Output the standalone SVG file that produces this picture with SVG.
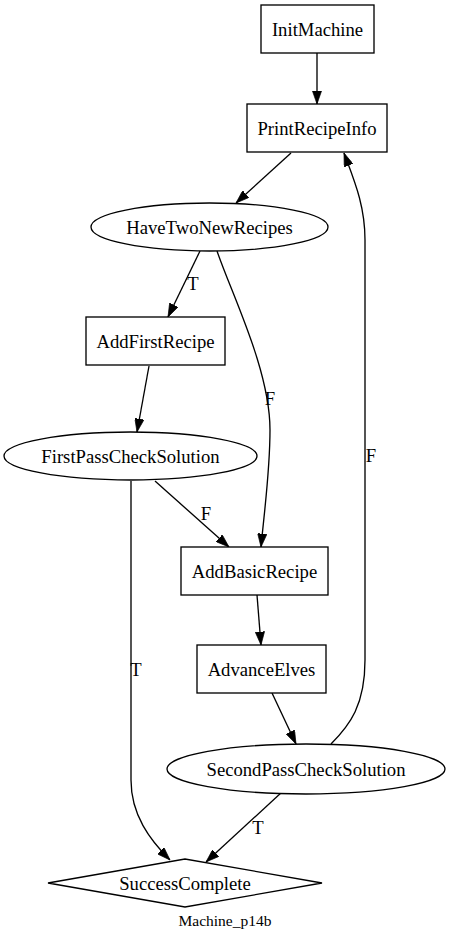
<svg xmlns="http://www.w3.org/2000/svg" width="451" height="939" viewBox="0 0 451 939">
<style>
.n{fill:#fff;stroke:#000;stroke-width:1.33}
.t{font-family:'Liberation Serif','Times New Roman',Times,serif;font-size:18.67px;text-anchor:middle;fill:#000}
.e{fill:none;stroke:#000;stroke-width:1.33;marker-end:url(#ah)}
.g{font-family:'Liberation Serif','Times New Roman',Times,serif;font-size:15.5px;text-anchor:middle;fill:#000}
</style>
<defs>
<marker id="ah" viewBox="0 0 10 7" refX="10" refY="3.5" markerWidth="13.3" markerHeight="9.3" markerUnits="userSpaceOnUse" orient="auto">
<path d="M0,0 L10,3.5 L0,7 z" fill="#000" stroke="#000" stroke-width="0.5"/>
</marker>
</defs>
<rect width="451" height="939" fill="#fff"/>
<g id="edges">
<path class="e" d="M317,53 L317,104"/>
<path class="e" d="M291,153 L236,203"/>
<path class="e" d="M200,251 L168,317"/>
<text class="t" x="193" y="290" font-family="Liberation Serif">T</text>
<path class="e" d="M217,251 C232,295 270,370 270,430 C270,470 265,505 261,547"/>
<text class="t" x="270" y="405" font-family="Liberation Serif">F</text>
<path class="e" d="M149,366 L137,432"/>
<path class="e" d="M155,481 L229,547"/>
<text class="t" x="206" y="520" font-family="Liberation Serif">F</text>
<path class="e" d="M131,481 C131,560 131,700 131,780 C131,815 150,840 170,860"/>
<text class="t" x="136" y="676" font-family="Liberation Serif">T</text>
<path class="e" d="M257,595 L261,645"/>
<path class="e" d="M272,693 L296,744"/>
<path class="e" d="M331,744 C350,725 365,705 365,660 L365,240 C365,205 354,180 344,153"/>
<text class="t" x="371" y="462" font-family="Liberation Serif">F</text>
<path class="e" d="M282,792 L206,862"/>
<text class="t" x="258" y="834" font-family="Liberation Serif">T</text>
</g>
<g id="InitMachine"><rect class="n" x="261" y="5" width="113" height="48"/><text class="t" x="317.5" y="35.5" font-family="Liberation Serif">InitMachine</text></g>
<g id="PrintRecipeInfo"><rect class="n" x="247" y="104" width="140" height="48"/><text class="t" x="317" y="134.5" font-family="Liberation Serif">PrintRecipeInfo</text></g>
<g id="HaveTwoNewRecipes"><ellipse class="n" cx="209.5" cy="227" rx="118.5" ry="24"/><text class="t" x="209.5" y="233.5" font-family="Liberation Serif">HaveTwoNewRecipes</text></g>
<g id="AddFirstRecipe"><rect class="n" x="86" y="317" width="139" height="48"/><text class="t" x="155.5" y="347.5" font-family="Liberation Serif">AddFirstRecipe</text></g>
<g id="FirstPassCheckSolution"><ellipse class="n" cx="130.5" cy="456" rx="126.5" ry="24"/><text class="t" x="130.5" y="462.5" font-family="Liberation Serif">FirstPassCheckSolution</text></g>
<g id="AddBasicRecipe"><rect class="n" x="181" y="547" width="147" height="48"/><text class="t" x="254.5" y="577.5" font-family="Liberation Serif">AddBasicRecipe</text></g>
<g id="AdvanceElves"><rect class="n" x="197" y="645" width="129" height="48"/><text class="t" x="261.5" y="675.5" font-family="Liberation Serif">AdvanceElves</text></g>
<g id="SecondPassCheckSolution"><ellipse class="n" cx="306" cy="769" rx="139" ry="25"/><text class="t" x="306" y="775.5" font-family="Liberation Serif">SecondPassCheckSolution</text></g>
<g id="SuccessComplete"><polygon class="n" points="48,883 185,859 322,883 185,907"/><text class="t" x="185" y="889.5" font-family="Liberation Serif">SuccessComplete</text></g>
<text class="g" x="225" y="926" font-family="Liberation Serif">Machine_p14b</text>
</svg>
